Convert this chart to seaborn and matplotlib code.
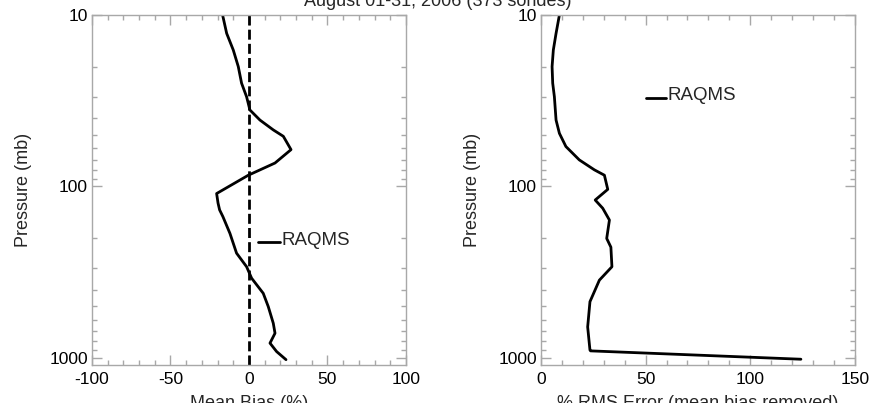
import numpy as np
import pandas as pd
import matplotlib
matplotlib.use("Agg")
import matplotlib.pyplot as plt
import matplotlib.ticker as mticker
import seaborn as sns

# ---------------- data ----------------
title = "August 01-31, 2006 (373 sondes)"

bias_pressure = [10, 12.8, 16, 20, 25, 30, 35.8, 41, 46.8, 51, 61, 73, 86, 110,
                 125, 137, 150, 188, 245, 294, 343, 420, 502, 628, 718, 820, 918, 1024]
bias_values = [-16.8, -14.2, -10.0, -6.8, -4.7, -1.5, 0.6, 7.0, 15.5, 21.9, 26.8, 16.6,
               -0.4, -20.6, -19.7, -18.7, -16.6, -12.1, -7.9, -1.5, 1.7, 9.1, 12.3,
               15.5, 16.6, 13.4, 17.6, 23.6]

rms_pressure = [10, 12.8, 16, 20, 25, 30, 41, 49, 58.5, 70, 80, 86, 104, 120, 134,
                157, 201, 226, 294, 352, 470, 660, 900, 910, 1018]
rms_values = [8.8, 7.2, 5.9, 5.3, 5.6, 6.4, 7.2, 8.8, 11.9, 18.3, 25.5, 30.3, 31.9,
              25.9, 29.5, 32.7, 31.4, 33.4, 33.9, 27.9, 23.4, 22.3, 23.4, 23.7, 124.2]

ref_bias = 0
series_name = "RAQMS"
bias_xlim = (-100, 100)
bias_xticks = [-100, -50, 0, 50, 100]
rms_xlim = (0, 150)
rms_xticks = [0, 50, 100, 150]
p_ticks = [10, 100, 1000]
p_lim = (1100, 10)

bias_df = pd.DataFrame({"bias": bias_values, "p": bias_pressure})
rms_df = pd.DataFrame({"rms": rms_values, "p": rms_pressure})

# ---------------- style ----------------
sns.set_theme(style="ticks")
plt.rcParams["font.family"] = ["Liberation Sans", "DejaVu Sans"]
plt.rcParams["axes.unicode_minus"] = False
spine_col = "#a8a8a8"

fig = plt.figure(figsize=(8.72, 4.03), dpi=100)
ax1 = fig.add_axes([0.1055, 0.0943, 0.360, 0.8685])
ax2 = fig.add_axes([0.6204, 0.0943, 0.360, 0.8685])

sns.lineplot(data=bias_df, x="bias", y="p", sort=False, estimator=None,
             color="black", lw=2.0, ax=ax1)
ax1.axvline(ref_bias, color="black", lw=2.0, dashes=(3.6, 1.5))
sns.lineplot(data=rms_df, x="rms", y="p", sort=False, estimator=None,
             color="black", lw=2.0, ax=ax2)

fs_tick = 12.5
fs_lab = 13
for ax, xlim, xt, xlabel in [(ax1, bias_xlim, bias_xticks, "Mean Bias (%)"),
                             (ax2, rms_xlim, rms_xticks, "% RMS Error (mean bias removed)")]:
    ax.set_yscale("log")
    ax.set_ylim(*p_lim)
    ax.set_xlim(*xlim)
    ax.set_xticks(xt)
    ax.xaxis.set_minor_locator(mticker.MultipleLocator(10))
    ax.yaxis.set_major_locator(mticker.FixedLocator(p_ticks))
    ax.yaxis.set_major_formatter(mticker.FixedFormatter([str(v) for v in p_ticks]))
    ax.yaxis.set_minor_locator(mticker.LogLocator(base=10, subs=np.arange(2, 10)))
    ax.yaxis.set_minor_formatter(mticker.NullFormatter())
    for s in ax.spines.values():
        s.set_visible(True)
        s.set_color(spine_col)
        s.set_linewidth(1.0)
    ax.tick_params(which="both", direction="in", top=True, right=True,
                   color=spine_col, labelsize=fs_tick, labelcolor="black")
    ax.tick_params(which="major", length=7, width=1)
    ax.tick_params(which="minor", length=3.5, width=1)
    ax.tick_params(axis="x", pad=5)
    ax.tick_params(axis="y", pad=3)
    ax.set_xlabel(xlabel, fontsize=fs_lab, labelpad=6)
    ax.set_ylabel("Pressure (mb)", fontsize=fs_lab)
    ax.yaxis.set_label_coords(-0.19, 0.5)

# legend-style labels
ax1.plot([0.529, 0.599], [0.351, 0.351], transform=ax1.transAxes, color="black", lw=2.0)
ax1.text(0.603, 0.343, series_name, transform=ax1.transAxes, fontsize=13.5,
         va="baseline", ha="left")
ax2.plot([0.334, 0.398], [0.762, 0.762], transform=ax2.transAxes, color="black", lw=2.0)
ax2.text(0.402, 0.757, series_name, transform=ax2.transAxes, fontsize=13.5,
         va="baseline", ha="left")

fig.text(0.502, 0.985, title, ha="center", va="baseline", fontsize=fs_lab)

fig.savefig("out.png", dpi=100)
